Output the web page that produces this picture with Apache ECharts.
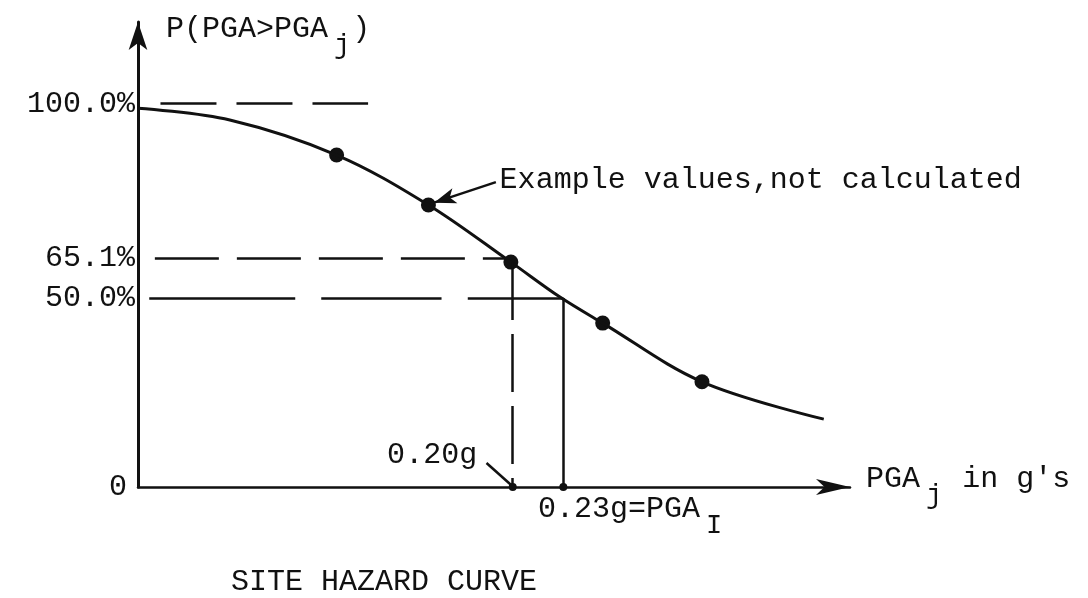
<!DOCTYPE html>
<html>
<head>
<meta charset="utf-8">
<script src="https://cdn.jsdelivr.net/npm/echarts@6.0.0/dist/echarts.min.js"></script>
<style>
html, body { margin: 0; background: #fff; }
#chart { width: 1088px; height: 598px; }
</style>
</head>
<body>
<div id="chart"></div>
<script>
// site hazard curve (x in g, y in drawn % height)
var curvePga  = [0, 0.049, 0.106, 0.155, 0.199, 0.225, 0.248, 0.301, 0.366];
var curveProb = [99.4, 96.3, 87.1, 74.0, 59.0, 49.9, 43.0, 27.6, 17.8];

var pointPga  = [0.106, 0.155, 0.199, 0.248, 0.301];
var pointProb = [87.1, 74.0, 59.0, 43.0, 27.6];

var yTickValues = [0, 49.6, 60.1, 100.6];
var yTickLabels = ['0', '50.0%', '65.1%', '100.0%'];

var pgaMarked  = [0.20, 0.227];   // 0.20g, 0.23g = PGA_I
var probMarked = [59.0, 49.6];

var INK = '#111';
var FONT = 'Liberation Mono';
var FS = 30;

var rich = {
    m: { fontFamily: FONT, fontSize: FS, color: INK, padding: [0, 0, 16, 0] },
    s: { fontFamily: FONT, fontSize: 27, color: INK, padding: [18, 2, 0, 6] },
    v: { fontFamily: FONT, fontSize: FS, color: INK },
    z: { fontFamily: FONT, fontSize: FS, color: INK, padding: [0, 8, 0, 0] }
};

var chart = echarts.init(document.getElementById('chart'));

var option = {
    animation: false,
    backgroundColor: '#fff',
    title: {
        text: 'SITE HAZARD CURVE',
        left: 226,
        top: 562,
        textStyle: { fontFamily: FONT, fontSize: FS, fontWeight: 'normal', color: INK }
    },
    grid: { left: 138, right: 238, top: 22, bottom: 111 },
    xAxis: {
        type: 'value', min: 0, max: 0.38,
        name: "{m|PGA}{s|j}{m| in g's}",
        nameLocation: 'end', nameGap: 16,
        nameTextStyle: { rich: rich },
        axisLine: { symbol: ['none', 'arrow'], symbolSize: [12, 34], lineStyle: { color: INK, width: 2.5 } },
        axisTick: { show: false },
        axisLabel: { show: false },
        splitLine: { show: false }
    },
    yAxis: {
        type: 'value', min: 0, max: 122,
        name: '{m|P(PGA>PGA}{s|j}{m|)}',
        nameLocation: 'end', nameGap: 8,
        nameTextStyle: { align: 'left', verticalAlign: 'top', padding: [0, 0, 0, 28], rich: rich },
        axisLine: { symbol: ['none', 'arrow'], symbolSize: [14, 28], lineStyle: { color: INK, width: 3 } },
        axisTick: { show: false },
        axisLabel: {
            customValues: yTickValues,
            margin: 3,
            rich: rich,
            formatter: function (val) {
                var t = yTickLabels[yTickValues.indexOf(val)];
                return t === '0' ? '{z|0}' : '{v|' + t + '}';
            }
        },
        splitLine: { show: false }
    },
    series: [
        {
            type: 'line',
            data: curvePga.map(function (g, i) { return [g, curveProb[i]]; }),
            smooth: 0.35,
            symbol: 'none',
            silent: true,
            lineStyle: { color: INK, width: 3 },
            markLine: {
                silent: true,
                symbol: ['none', 'none'],
                label: { show: false },
                lineStyle: { color: INK, width: 2.5, type: 'solid' },
                data: [
                    [{ coord: [0.012, yTickValues[3]], lineStyle: { type: [56, 20] } }, { coord: [0.1228, yTickValues[3]] }],
                    [{ coord: [0.009, yTickValues[2]], lineStyle: { type: [64, 18] } }, { coord: [pgaMarked[0], yTickValues[2]] }],
                    [{ coord: [0.006, probMarked[1]], lineStyle: { type: [146, 26] } }, { coord: [0.162, probMarked[1]] }],
                    [{ coord: [0.176, probMarked[1]] }, { coord: [pgaMarked[1], probMarked[1]] }],
                    [{ coord: [pgaMarked[0], probMarked[0]], lineStyle: { type: [58, 14] } },
                     { coord: [pgaMarked[0], 0], symbol: 'circle', symbolSize: 8 }],
                    [{ coord: [pgaMarked[1], probMarked[1]] }, { coord: [pgaMarked[1], 0], symbol: 'circle', symbolSize: 8 }],
                    // pointer arrows
                    [{ coord: [0.191, 80.0], lineStyle: { curveness: 0.15 } },
                     { coord: [0.158, 74.6], symbol: 'arrow', symbolSize: [12, 22] }],
                    [{ coord: [0.186, 6.3], lineStyle: { curveness: -0.15 } }, { coord: [0.199, 0.6] }]
                ]
            },
            markPoint: {
                silent: true,
                symbol: 'circle',
                symbolSize: 0,
                label: { fontFamily: FONT, fontSize: FS, color: INK, distance: 0, rich: rich },
                data: [
                    { coord: [0.193, 80.6], label: { position: 'right', formatter: 'Example values,not calculated' } },
                    { coord: [0.181, 8.4], label: { position: 'left', formatter: '0.20g' } },
                    { coord: [0.2135, 0], label: { position: 'right', offset: [0, 30], formatter: '{m|0.23g=PGA}{s|I}' } }
                ]
            }
        },
        {
            type: 'scatter',
            data: pointPga.map(function (g, i) { return [g, pointProb[i]]; }),
            symbolSize: 15,
            silent: true,
            itemStyle: { color: INK, opacity: 1 }
        }
    ]
};

chart.setOption(option);
</script>
</body>
</html>
